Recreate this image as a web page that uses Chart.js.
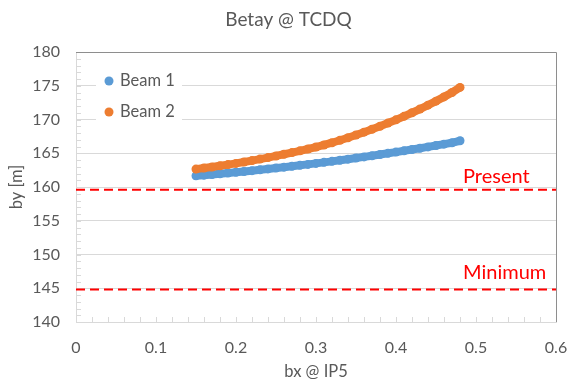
<!DOCTYPE html>
<html>
<head>
<meta charset="utf-8">
<script src="https://cdn.jsdelivr.net/npm/chart.js@4.4.1/dist/chart.umd.min.js"></script>
<style>
  html, body { margin: 0; padding: 0; background: #fff; }
  #wrap { width: 571px; height: 382px; }
</style>
</head>
<body>
<div id="wrap"><canvas id="chart"></canvas></div>
<script>
// bx at IP5 (shared by both beams)
const BX = [0.15, 0.16, 0.17, 0.18, 0.19, 0.20, 0.21, 0.22, 0.23, 0.24, 0.25,
            0.26, 0.27, 0.28, 0.29, 0.30, 0.31, 0.32, 0.33, 0.34, 0.35, 0.36,
            0.37, 0.38, 0.39, 0.40, 0.41, 0.42, 0.43, 0.44, 0.45, 0.46, 0.47, 0.48];

// by at TCDQ [m]
const BEAM1 = [161.65, 161.75, 161.85, 161.96, 162.07, 162.18, 162.30, 162.42, 162.55, 162.68, 162.81,
               162.94, 163.07, 163.21, 163.35, 163.50, 163.65, 163.80, 163.96, 164.12, 164.29, 164.46,
               164.63, 164.81, 164.99, 165.17, 165.36, 165.55, 165.74, 165.94, 166.14, 166.35, 166.56, 166.85];
const BEAM2 = [162.65, 162.81, 162.97, 163.14, 163.32, 163.50, 163.70, 163.91, 164.13, 164.36, 164.60,
               164.85, 165.10, 165.36, 165.63, 165.92, 166.23, 166.56, 166.92, 167.30, 167.70, 168.12,
               168.55, 169.00, 169.47, 169.95, 170.47, 171.00, 171.55, 172.12, 172.72, 173.35, 174.00, 174.75];

// limits
const PRESENT = 159.6;
const MINIMUM = 144.8;

const X_RANGE = [0, 0.6];
const Y_RANGE = [140, 180];

const TITLE = 'Betay @ TCDQ';

const BLUE = '#5B9BD5';
const ORANGE = '#ED7D31';
const RED = '#FF0000';
const TEXT = '#595959';
const GRID = '#D9D9D9';
const FONT = 'Lato, "Liberation Sans", sans-serif';

const pts = ys => BX.map((x, i) => ({ x: x, y: ys[i] }));
const hline = y => X_RANGE.map(x => ({ x: x, y: y }));

// title, minor ticks, plot frame, legend box and limit labels
const decor = {
    id: 'decor',
    beforeDatasetsDraw(chart) {
        const { ctx, chartArea: a, scales: { x, y } } = chart;
        ctx.save();
        ctx.fillStyle = TEXT;
        ctx.font = '19px ' + FONT;
        ctx.textAlign = 'center';
        ctx.textBaseline = 'middle';
        ctx.fillText(TITLE, chart.width / 2 + 3, 20);

        ctx.strokeStyle = GRID;
        ctx.lineWidth = 1;
        ctx.beginPath();
        for (let v = Y_RANGE[0]; v <= Y_RANGE[1]; v++) {
            const py = Math.round(y.getPixelForValue(v)) + 0.5;
            ctx.moveTo(a.left, py);
            ctx.lineTo(a.left + 5, py);
        }
        for (let i = 0; i <= 30; i++) {
            const px = Math.round(x.getPixelForValue(i * 0.02)) + 0.5;
            ctx.moveTo(px, a.bottom);
            ctx.lineTo(px, a.bottom - 5);
        }
        ctx.stroke();
        ctx.strokeStyle = '#8E8E8E';
        ctx.beginPath();
        ctx.moveTo(a.left, Math.round(a.top) + 0.5);
        ctx.lineTo(Math.round(a.right) + 0.5, Math.round(a.top) + 0.5);
        ctx.lineTo(Math.round(a.right) + 0.5, a.bottom);
        ctx.stroke();
        ctx.restore();
    },
    afterDatasetsDraw(chart) {
        const { ctx, scales: { y } } = chart;
        ctx.save();
        // legend
        ctx.fillStyle = '#fff';
        ctx.fillRect(96, 66, 86, 60);
        ctx.font = '16.5px ' + FONT;
        ctx.textBaseline = 'middle';
        [[BLUE, 0, 81], [ORANGE, 1, 112]].forEach(([c, i, ly]) => {
            ctx.fillStyle = c;
            ctx.beginPath();
            ctx.arc(109, ly, 4.5, 0, Math.PI * 2);
            ctx.fill();
            ctx.fillStyle = TEXT;
            ctx.fillText(chart.data.datasets[i].label, 120, ly);
        });
        // limit labels
        ctx.fillStyle = RED;
        ctx.font = '20px ' + FONT;
        ctx.fillText('Present', 463, y.getPixelForValue(PRESENT) - 13);
        ctx.fillText('Minimum', 463, y.getPixelForValue(MINIMUM) - 17);
        ctx.restore();
    }
};

const beam = (label, ys, color, order) => ({
    label: label,
    data: pts(ys),
    order: order,
    showLine: true,
    borderColor: color,
    backgroundColor: color,
    borderWidth: 8,
    borderCapStyle: 'round',
    pointRadius: 4.5,
    pointBorderWidth: 0
});

const limit = (label, v) => ({
    label: label,
    data: hline(v),
    order: 3,
    showLine: true,
    borderColor: RED,
    borderWidth: 2,
    borderDash: [9, 5],
    pointRadius: 0
});

new Chart(document.getElementById('chart'), {
    type: 'scatter',
    data: {
        datasets: [
            beam('Beam 1', BEAM1, BLUE, 2),
            beam('Beam 2', BEAM2, ORANGE, 1),
            limit('Present', PRESENT),
            limit('Minimum', MINIMUM)
        ]
    },
    options: {
        responsive: true,
        maintainAspectRatio: false,
        animation: false,
        layout: { padding: { left: 0, right: 15, top: 52, bottom: 0 } },
        plugins: {
            legend: { display: false },
            tooltip: { enabled: false },
            title: { display: false }
        },
        scales: {
            x: {
                type: 'linear',
                min: X_RANGE[0],
                max: X_RANGE[1],
                afterFit: s => { s.height = 60; },
                // invisible tick marks give the label gap without widening the right padding
                grid: { display: true, drawOnChartArea: false, drawTicks: true, tickLength: 16, tickColor: 'rgba(0,0,0,0)' },
                border: { display: true, color: GRID },
                ticks: {
                    stepSize: 0.1,
                    padding: 0,
                    color: TEXT,
                    font: { family: FONT, size: 16 },
                    callback: v => String(Number(v.toFixed(1)))
                },
                title: {
                    display: true,
                    text: 'bx @ IP5',
                    color: TEXT,
                    font: { family: FONT, size: 16.5 },
                    padding: 0
                }
            },
            y: {
                min: Y_RANGE[0],
                max: Y_RANGE[1],
                afterFit: s => { s.width = 76; },
                grid: { color: GRID, drawTicks: false },
                border: { display: true, color: GRID },
                ticks: {
                    stepSize: 5,
                    padding: 16,
                    color: TEXT,
                    font: { family: FONT, size: 16 }
                },
                title: {
                    display: true,
                    text: 'by [m]',
                    color: TEXT,
                    font: { family: FONT, size: 16.5 },
                    padding: { top: 7, bottom: 0 }
                }
            }
        }
    },
    plugins: [decor]
});
</script>
</body>
</html>
